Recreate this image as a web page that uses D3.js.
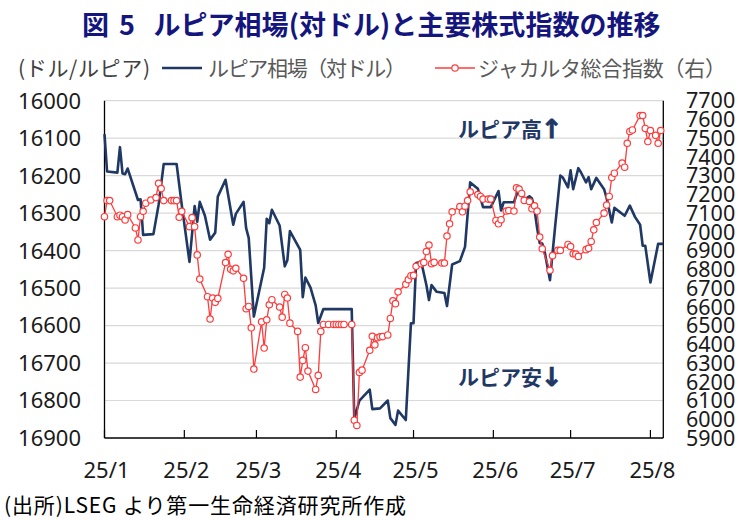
<!DOCTYPE html>
<html>
<head>
<meta charset="utf-8">
<script src="https://cdn.jsdelivr.net/npm/d3@7"></script>
<style>
  html, body { margin: 0; padding: 0; background: #fff; }
  svg { display: block; }
</style>
</head>
<body>
<svg id="chart" width="744" height="520"></svg>
<script>
// ---------------- DATA ----------------
const rupiahDates = [
  "2025-01-01","2025-01-02","2025-01-06","2025-01-07","2025-01-08","2025-01-09","2025-01-10",
  "2025-01-14","2025-01-15","2025-01-16","2025-01-20","2025-01-22","2025-01-24","2025-01-29",
  "2025-01-31","2025-02-03","2025-02-05","2025-02-06","2025-02-07","2025-02-09","2025-02-11",
  "2025-02-13","2025-02-14","2025-02-17","2025-02-20","2025-02-21","2025-02-24","2025-02-25",
  "2025-02-26","2025-02-28","2025-03-04","2025-03-05","2025-03-06","2025-03-07","2025-03-10",
  "2025-03-12","2025-03-13","2025-03-14","2025-03-18","2025-03-19","2025-03-20","2025-03-22",
  "2025-03-24","2025-03-25","2025-03-27","2025-04-07","2025-04-08","2025-04-10","2025-04-14",
  "2025-04-15","2025-04-18","2025-04-21","2025-04-22","2025-04-24","2025-04-25","2025-04-28",
  "2025-04-30","2025-05-01","2025-05-02","2025-05-04","2025-05-06","2025-05-07","2025-05-08",
  "2025-05-10","2025-05-13","2025-05-14","2025-05-16","2025-05-19","2025-05-21","2025-05-23",
  "2025-05-26","2025-05-28","2025-05-31","2025-06-03","2025-06-04","2025-06-05","2025-06-09",
  "2025-06-11","2025-06-13","2025-06-15","2025-06-16","2025-06-17","2025-06-18","2025-06-19",
  "2025-06-20","2025-06-21","2025-06-23","2025-06-24","2025-06-25","2025-06-27","2025-06-28",
  "2025-06-30","2025-07-01","2025-07-02","2025-07-04","2025-07-05","2025-07-07","2025-07-08",
  "2025-07-09","2025-07-11","2025-07-14","2025-07-15","2025-07-17","2025-07-18","2025-07-22",
  "2025-07-24","2025-07-26","2025-07-28","2025-07-29","2025-07-30","2025-08-01","2025-08-04",
  "2025-08-06"
];
const rupiahValues = [
  16089,16189,16192,16124,16194,16196,16181,
  16265,16263,16358,16356,16278,16169,16169,
  16278,16430,16281,16323,16270,16307,16371,
  16352,16256,16211,16331,16302,16270,16340,
  16366,16576,16446,16315,16327,16291,16333,
  16442,16426,16348,16398,16524,16472,16499,
  16546,16593,16556,16556,16849,16800,16771,
  16823,16821,16800,16847,16865,16827,16852,
  16594,16594,16433,16430,16492,16532,16492,
  16510,16513,16548,16437,16428,16390,16218,
  16235,16284,16284,16241,16293,16271,16271,
  16231,16264,16255,16261,16291,16340,16380,
  16381,16406,16479,16406,16335,16200,16205,
  16231,16186,16236,16180,16191,16218,16204,
  16236,16206,16236,16260,16325,16286,16307,
  16280,16310,16331,16387,16387,16485,16382,
  16382
];

const jciDates = [
  "2025-01-01","2025-01-02","2025-01-03","2025-01-06","2025-01-07","2025-01-08","2025-01-09",
  "2025-01-10","2025-01-13","2025-01-14","2025-01-15","2025-01-16","2025-01-17","2025-01-19",
  "2025-01-21","2025-01-22","2025-01-23","2025-01-24","2025-01-27","2025-01-28","2025-01-29",
  "2025-01-30","2025-01-31","2025-02-03","2025-02-04","2025-02-05","2025-02-06","2025-02-07",
  "2025-02-10","2025-02-11","2025-02-12","2025-02-13","2025-02-14","2025-02-17","2025-02-18",
  "2025-02-19","2025-02-20","2025-02-21","2025-02-24","2025-02-25","2025-02-26","2025-02-27",
  "2025-02-28","2025-03-03","2025-03-04","2025-03-05","2025-03-06","2025-03-07","2025-03-10",
  "2025-03-11","2025-03-12","2025-03-13","2025-03-14","2025-03-17","2025-03-18","2025-03-19",
  "2025-03-20","2025-03-21","2025-03-24","2025-03-25","2025-03-26","2025-03-27","2025-03-29",
  "2025-03-31","2025-04-01","2025-04-02","2025-04-03","2025-04-04","2025-04-07","2025-04-08",
  "2025-04-09","2025-04-10","2025-04-11","2025-04-14","2025-04-15","2025-04-16","2025-04-17",
  "2025-04-18","2025-04-19","2025-04-21","2025-04-22","2025-04-23","2025-04-24","2025-04-25",
  "2025-04-28","2025-04-29","2025-04-30","2025-05-01","2025-05-02","2025-05-04","2025-05-05",
  "2025-05-06","2025-05-07","2025-05-08","2025-05-09","2025-05-12","2025-05-13","2025-05-14",
  "2025-05-15","2025-05-16","2025-05-19","2025-05-20","2025-05-21","2025-05-22","2025-05-23",
  "2025-05-26","2025-05-27","2025-05-28","2025-05-30","2025-05-31","2025-06-02","2025-06-03",
  "2025-06-04","2025-06-06","2025-06-07","2025-06-09","2025-06-10","2025-06-11","2025-06-12",
  "2025-06-13","2025-06-15","2025-06-16","2025-06-17","2025-06-18","2025-06-19","2025-06-20",
  "2025-06-23","2025-06-24","2025-06-26","2025-06-27","2025-06-30","2025-07-01","2025-07-02",
  "2025-07-03","2025-07-04","2025-07-07","2025-07-08","2025-07-09","2025-07-10","2025-07-11",
  "2025-07-14","2025-07-15","2025-07-16","2025-07-17","2025-07-18","2025-07-21","2025-07-22",
  "2025-07-23","2025-07-24","2025-07-25","2025-07-28","2025-07-29","2025-07-30","2025-07-31",
  "2025-08-01","2025-08-03","2025-08-04","2025-08-05"
];
const jciValues = [
  7081,7167,7167,7081,7089,7081,7064,
  7092,7021,6957,7081,7110,7153,7170,
  7183,7259,7231,7167,7167,7167,7167,
  7078,7110,7028,7076,7028,6877,6748,
  6654,6535,6647,6624,6645,6836,6880,
  6800,6792,6806,6752,6590,6602,6488,
  6268,6520,6380,6531,6611,6638,6599,
  6545,6666,6647,6513,6469,6225,6314,
  6382,6257,6159,6234,6469,6506,6506,
  6506,6506,6506,6506,6506,6506,5995,
  5967,6250,6262,6368,6443,6397,6435,
  6440,6441,6450,6538,6632,6617,6680,
  6720,6745,6766,6768,6816,6830,6837,
  6895,6930,6830,6837,6834,6834,6978,
  7043,7107,7135,7107,7137,7167,7214,
  7199,7189,7175,7175,7175,7061,7043,
  7065,7111,7114,7111,7235,7228,7205,
  7168,7162,7123,7139,7111,6972,6910,
  6795,6873,6901,6901,6933,6922,6883,
  6882,6869,6905,6912,6949,7011,7050,
  7100,7143,7189,7290,7313,7367,7345,
  7473,7536,7544,7621,7621,7552,7482,
  7541,7515,7473,7541
];

const leftTicks = [16000,16100,16200,16300,16400,16500,16600,16700,16800,16900];
const rightTicks = [7700,7600,7500,7400,7300,7200,7100,7000,6900,6800,6700,6600,6500,6400,6300,6200,6100,6000,5900];
const monthTickDates = ["2025-01-01","2025-02-01","2025-03-01","2025-04-01","2025-05-01","2025-06-01","2025-07-01","2025-08-01"];
const monthLabels = ["25/1","25/2","25/3","25/4","25/5","25/6","25/7","25/8"];

const titleParts = ["図", "5", "ルピア相場(対ドル)と主要株式指数の推移"];
const leftUnit = "(ドル/ルピア)";
const seriesNames = ["ルピア相場（対ドル）","ジャカルタ総合指数（右）"];
const noteUp = ["ルピア高", "↑"];
const noteDown = ["ルピア安", "↓"];
const sourceText = "(出所)LSEG より第一生命経済研究所作成";

// ---------------- DRAW ----------------
(function () {
const parse = d3.timeParse("%Y-%m-%d");
const svg = d3.select("#chart");
const cjk = "'Noto Sans CJK JP','Noto Sans',sans-serif";
const num = "'Noto Sans','Liberation Sans',sans-serif";
const navy = "#1f3864";
const red = "#ff3b3b";

const pl = 104.5, pr = 663.3, pt = 100.7, pb = 438;

const x = d3.scaleTime()
  .domain([parse("2025-01-01"), parse("2025-08-06")])
  .range([pl, pr]);
const yL = d3.scaleLinear().domain([16000, 16900]).range([pt, pb]);
const yR = d3.scaleLinear().domain([5900, 7700]).range([pb, pt]);

// gridlines
svg.append("g").selectAll("line")
  .data(leftTicks.filter(v => v !== 16900))
  .join("line")
  .attr("x1", pl).attr("x2", pr)
  .attr("y1", d => yL(d)).attr("y2", d => yL(d))
  .attr("stroke", "#d9d9d9").attr("stroke-width", 1.2);

// left axis labels
svg.append("g").selectAll("text")
  .data(leftTicks).join("text")
  .attr("x", 81).attr("y", d => yL(d)).attr("dy", "0.36em")
  .attr("text-anchor", "end")
  .attr("font-family", num).attr("font-size", 22).attr("fill", "#1a1a1a")
  .text(d => d);

// right axis labels
svg.append("g").selectAll("text")
  .data(rightTicks).join("text")
  .attr("x", 686).attr("y", d => yR(d)).attr("dy", "0.36em")
  .attr("text-anchor", "start")
  .attr("font-family", num).attr("font-size", 21.5).attr("fill", "#1a1a1a")
  .text(d => d);

// axes lines
const axisG = svg.append("g").attr("stroke", "#000").attr("stroke-width", 1.3);
axisG.append("line").attr("x1", pl).attr("x2", pl).attr("y1", pt).attr("y2", pb);
axisG.append("line").attr("x1", pr).attr("x2", pr).attr("y1", pt).attr("y2", pb);
axisG.append("line").attr("x1", pl).attr("x2", pr).attr("y1", pb).attr("y2", pb);

// month ticks (inside)
const tickDates = monthTickDates.map(parse);
svg.append("g").selectAll("line")
  .data(tickDates).join("line")
  .attr("x1", d => x(d)).attr("x2", d => x(d))
  .attr("y1", pb).attr("y2", pb - 8)
  .attr("stroke", "#000").attr("stroke-width", 1.2);

svg.append("g").selectAll("text")
  .data(tickDates).join("text")
  .attr("x", d => x(d) + 2).attr("y", 470).attr("dy", "0.36em")
  .attr("text-anchor", "middle")
  .attr("font-family", num).attr("font-size", 22).attr("fill", "#1a1a1a")
  .text((d, i) => monthLabels[i]);

// rupiah line
const rupiah = rupiahDates.map((d, i) => ({date: parse(d), v: rupiahValues[i]}));
svg.append("path")
  .datum(rupiah)
  .attr("fill", "none").attr("stroke", navy).attr("stroke-width", 2.6)
  .attr("stroke-linejoin", "round")
  .attr("d", d3.line().x(d => x(d.date)).y(d => yL(d.v)));

// JCI line + markers
const jci = jciDates.map((d, i) => ({date: parse(d), v: jciValues[i]}));
svg.append("path")
  .datum(jci)
  .attr("fill", "none").attr("stroke", red).attr("stroke-width", 1.3)
  .attr("d", d3.line().x(d => x(d.date)).y(d => yR(d.v)));
svg.append("g").selectAll("circle")
  .data(jci).join("circle")
  .attr("cx", d => x(d.date)).attr("cy", d => yR(d.v)).attr("r", 3.2)
  .attr("fill", "#fff").attr("stroke", red).attr("stroke-width", 1.2);

// title
const titleColor = "#15157e";
const tt = svg.append("g")
  .attr("font-family", cjk).attr("font-weight", "bold").attr("font-size", 27)
  .attr("fill", titleColor);
tt.append("text").attr("x", 82).attr("y", 25).attr("dy", "0.36em").text(titleParts[0]);
tt.append("text").attr("x", 119).attr("y", 25).attr("dy", "0.36em").text(titleParts[1]);
tt.append("text").attr("x", 153.5).attr("y", 25).attr("dy", "0.36em")
  .attr("textLength", 507).attr("lengthAdjust", "spacing").text(titleParts[2]);

// legend
const ly = 68;
svg.append("text").attr("x", 18).attr("y", ly).attr("dy", "0.36em")
  .attr("font-family", cjk).attr("font-size", 21).attr("fill", "#404040")
  .attr("textLength", 132).attr("lengthAdjust", "spacing")
  .text(leftUnit);
svg.append("line").attr("x1", 162).attr("x2", 202).attr("y1", ly).attr("y2", ly)
  .attr("stroke", navy).attr("stroke-width", 2.6);
svg.append("text").attr("x", 208).attr("y", ly).attr("dy", "0.36em")
  .attr("font-family", cjk).attr("font-size", 21).attr("fill", "#595959")
  .attr("textLength", 198).attr("lengthAdjust", "spacing")
  .text(seriesNames[0]);
svg.append("line").attr("x1", 435).attr("x2", 475).attr("y1", ly).attr("y2", ly)
  .attr("stroke", red).attr("stroke-width", 1.3);
svg.append("circle").attr("cx", 455).attr("cy", ly).attr("r", 3.2)
  .attr("fill", "#fff").attr("stroke", red).attr("stroke-width", 1.2);
svg.append("text").attr("x", 478).attr("y", ly).attr("dy", "0.36em")
  .attr("font-family", cjk).attr("font-size", 21).attr("fill", "#595959")
  .attr("textLength", 248).attr("lengthAdjust", "spacing")
  .text(seriesNames[1]);

// annotations
function note(parts, yPos) {
  const t = svg.append("text").attr("x", 458).attr("y", yPos).attr("dy", "0.36em")
    .attr("font-family", cjk).attr("font-weight", "bold").attr("font-size", 21)
    .attr("fill", navy);
  t.append("tspan").text(parts[0]);
  t.append("tspan").attr("font-family", "'DejaVu Sans',sans-serif")
    .attr("font-size", 26).attr("font-weight", 900)
    .attr("stroke", navy).attr("stroke-width", 0.8)
    .attr("dx", -1).attr("dy", 1).text(parts[1]);
}
note(noteUp, 129);
note(noteDown, 377);

// source
svg.append("text").attr("x", 4).attr("y", 505).attr("dy", "0.36em")
  .attr("font-family", cjk).attr("font-size", 21).attr("fill", "#000")
  .attr("textLength", 402).attr("lengthAdjust", "spacing")
  .text(sourceText);
})();
</script>
</body>
</html>
